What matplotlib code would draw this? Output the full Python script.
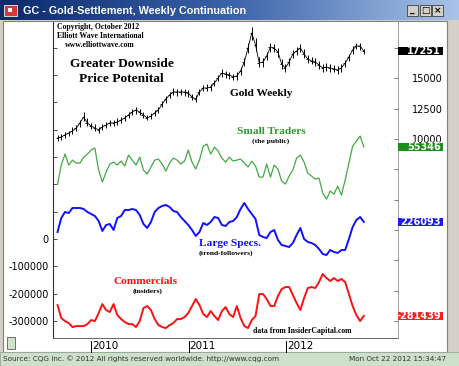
import numpy as np
import pandas as pd
import matplotlib
matplotlib.use("Agg")
import matplotlib.pyplot as plt
import matplotlib.dates as mdates
from matplotlib.patches import Rectangle
from matplotlib.colors import LinearSegmentedColormap

# ---------------- data (bi-weekly readings) ----------------
dates = pd.date_range("2009-08-28", periods=83, freq="14D")

gold_close = [10083, 10165, 10330, 10495, 10660, 10908, 11320, 11815, 11320, 11073,
              10908, 10743, 10990, 11155, 11320, 11320, 11403, 11568, 11733, 11980,
              12228, 12393, 12228, 11980, 11733, 11898, 12145, 12393, 12888, 13300,
              13630, 13878, 13878, 13878, 13878, 13795, 13465, 13300, 13878, 14208,
              14208, 14290, 14620, 15033, 15445, 15363, 15280, 15115, 15198, 15610,
              16353, 17508, 18745, 17755, 16270, 16353, 16848, 17590, 17508, 17178,
              16188, 15858, 16353, 17013, 17260, 17508, 17013, 16600, 16435, 16353,
              16105, 15858, 15940, 15858, 15775, 15693, 15858, 16270, 16765, 17343,
              17673, 17673, 17251]
gold_high = [10300, 10400, 10550, 10700, 10950, 11150, 11600, 12200, 11700, 11350,
             11200, 10950, 11250, 11400, 11550, 11600, 11700, 11850, 12000, 12250,
             12500, 12650, 12500, 12250, 12000, 12150, 12400, 12650, 13150, 13550,
             13900, 14200, 14150, 14100, 14150, 14050, 13750, 13600, 14100, 14450,
             14500, 14550, 14900, 15300, 15750, 15650, 15550, 15400, 15500, 15900,
             16700, 17900, 19200, 18300, 16800, 16700, 17200, 17950, 17850, 17500,
             16600, 16200, 16650, 17350, 17550, 17850, 17400, 16950, 16750, 16650,
             16400, 16200, 16250, 16150, 16100, 16000, 16150, 16550, 17050, 17650,
             17950, 17900, 17450]
gold_low = [9850, 9950, 10100, 10250, 10450, 10650, 11000, 11500, 11100, 10850,
            10700, 10500, 10750, 10900, 11050, 11100, 11150, 11300, 11500, 11700,
            11950, 12100, 11950, 11700, 11550, 11650, 11900, 12150, 12600, 13000,
            13350, 13600, 13550, 13600, 13550, 13500, 13200, 13050, 13600, 13950,
            13950, 14000, 14350, 14750, 15100, 15000, 14950, 14850, 14900, 15300,
            16000, 17100, 18200, 17300, 15900, 15950, 16500, 17200, 17150, 16800,
            15800, 15500, 16000, 16700, 16950, 17200, 16700, 16300, 16150, 16050,
            15800, 15500, 15650, 15550, 15500, 15400, 15550, 15950, 16450, 17050,
            17400, 17350, 17050]

small_traders = [36800, 46300, 51800, 46300, 48800, 47300, 47300, 50300, 51800, 53800,
                 54800, 43800, 37800, 42800, 46800, 47800, 46300, 48300, 45800, 51300,
                 48800, 46300, 50300, 43800, 41800, 45300, 48800, 49300, 46800, 43300,
                 47300, 49800, 48800, 46800, 48300, 53800, 47800, 44300, 48800, 55800,
                 56800, 51800, 55300, 53300, 49800, 47800, 50300, 48300, 48800, 49300,
                 47300, 45300, 48300, 45800, 40300, 40300, 46800, 40300, 46300, 44300,
                 38300, 36800, 40800, 43800, 49800, 51300, 47800, 42300, 40800, 39300,
                 39800, 32300, 29300, 33300, 31800, 35800, 31300, 38800, 47300, 55800,
                 58300, 60800, 55346]

large_specs = [196100, 238100, 256100, 253100, 268100, 268100, 268100, 265100, 256100, 250100,
               244100, 229100, 199100, 217100, 220100, 202100, 238100, 244100, 262100, 262100,
               265100, 262100, 247100, 220100, 208100, 226100, 256100, 268100, 274100, 277100,
               271100, 259100, 256100, 241100, 229100, 217100, 202100, 184100, 196100, 223100,
               217100, 226100, 241100, 238100, 217100, 214100, 226100, 229100, 241100, 265100,
               283100, 265100, 250100, 235100, 187100, 181100, 178100, 196100, 202100, 172100,
               157100, 154100, 151100, 163100, 187100, 208100, 175100, 166100, 163100, 157100,
               145100, 130100, 127100, 142100, 136100, 133100, 142100, 142100, 175100, 211100,
               232100, 241100, 226093]

commercials = [-241800, -289400, -300400, -307700, -322300, -318700, -318700, -318700, -311400, -296700,
               -300400, -271100, -238100, -260100, -267400, -238100, -278400, -293000, -304000, -311400,
               -311400, -322300, -300400, -252700, -245400, -260100, -293000, -315000, -322300, -326000,
               -315000, -307700, -293000, -293000, -285700, -271100, -245400, -219800, -241800, -274700,
               -285700, -263700, -282100, -296700, -263700, -249100, -274700, -285700, -245400, -289400,
               -318700, -326000, -296700, -282100, -201500, -201500, -219800, -245400, -245400, -208800,
               -183200, -175800, -175800, -205100, -234400, -260100, -216100, -179500, -175800, -179500,
               -157500, -128200, -142900, -153800, -142900, -153800, -146500, -157500, -201500, -245400,
               -278400, -300400, -281439]

gold_ticks = [10000, 12500, 15000]
cot_ticks = [0, -100000, -200000, -300000]
years = ["2010", "2011", "2012"]

# ---------------- layout helpers ----------------
W, H = 460, 366
fig = plt.figure(figsize=(W / 100, H / 100), dpi=100, facecolor="#d4d0c8")

def fx(px):
    return px / W

def fy(py):
    return 1 - py / H

bg = fig.add_axes([0, 0, 1, 1], zorder=0)
bg.set_xlim(0, W)
bg.set_ylim(H, 0)
bg.axis("off")

# window chrome
grad = np.linspace(0, 1, 256).reshape(1, -1)
cm = LinearSegmentedColormap.from_list("tb", ["#0c2a6e", "#3a63a8", "#a9c4ea"])
bg.imshow(grad, extent=(0, W, 20, 0), cmap=cm, aspect="auto", zorder=1)
bg.add_patch(Rectangle((3, 21), 444, 331, facecolor="white", edgecolor="#808080", lw=0.8, zorder=1))
bg.add_patch(Rectangle((0, 352), W, 14, facecolor="#cde0c9", edgecolor="#9aa89a", lw=0.6, zorder=1))
bg.add_patch(Rectangle((7, 337), 8, 12, facecolor="#cfe3cc", edgecolor="#707070", lw=0.7, zorder=2))
# title icon
bg.add_patch(Rectangle((4, 5), 13, 11, facecolor="#d8383a", edgecolor="#f0f0f0", lw=0.6, zorder=2))
bg.add_patch(Rectangle((8, 8), 4, 4, facecolor="white", edgecolor="none", zorder=3))
# title buttons
for x0, sym in [(407, "_"), (420, "□"), (432, "×")]:
    bg.add_patch(Rectangle((x0, 5), 11, 11, facecolor="#d4d0c8", edgecolor="#404040", lw=0.6, zorder=2))
    bg.text(x0 + 5.5, 10.5, sym, ha="center", va="center", fontsize=6.5, fontweight="bold",
            color="black", zorder=3)
bg.text(23, 10.5, "GC - Gold-Settlement, Weekly Continuation", color="white", fontsize=7.8,
        fontweight="bold", ha="left", va="center", family="Liberation Sans", zorder=3)
bg.text(3, 359, "Source: CQG Inc. \u00a9 2012 All rights reserved worldwide. http://www.cqg.com",
        fontsize=5.2, ha="left", va="center", color="#333333", zorder=3)
bg.text(446, 359, "Mon Oct 22 2012 15:34:47", fontsize=5.2, ha="right", va="center",
        color="#333333", zorder=3)

# ---------------- main chart ----------------
ax = fig.add_axes([fx(53), fy(338), fx(398) - fx(53), (338 - 22) / H], zorder=2)
ax.set_facecolor("white")
xd = mdates.date2num(dates)
ax.set_xlim(mdates.date2num(pd.Timestamp("2009-08-11")), mdates.date2num(pd.Timestamp("2013-02-24")))

# commercials on left scale: 0 at px 239, 100000 per 27.3 px
ax.set_ylim(-(338 - 239) * 3660, (239 - 22) * 3660)
ax.plot(xd, commercials, color="#ff1010", lw=1.4, zorder=3)

ax_g = ax.twinx()
ax_g.set_ylim(10000 - (338 - 139) * 82.5, 10000 + (139 - 22) * 82.5)
ax_g.vlines(xd, gold_low, gold_high, color="black", lw=0.7)
ax_g.plot(xd, gold_close, color="black", lw=0.6)
ax_g.plot(xd, gold_close, ls="none", marker=0, ms=1.6, mew=0.6, color="black")

ax_s = ax.twinx()
ax_s.set_ylim(55346 - (338 - 147) * 500, 55346 + (147 - 22) * 500)
ax_s.plot(xd, small_traders, color="#45a845", lw=0.9)
ax_s.axis("off")

ax_l = ax.twinx()
ax_l.set_ylim(226093 - (338 - 222) * 3000, 226093 + (222 - 22) * 3000)
ax_l.plot(xd, large_specs, color="#1010ff", lw=1.4)
ax_l.axis("off")

# spines / ticks
for a in (ax, ax_g):
    a.spines["top"].set_visible(False)
ax.spines["left"].set_color("#303030")
ax.spines["left"].set_linewidth(0.8)
ax.spines["bottom"].set_color("#505050")
ax.spines["bottom"].set_linewidth(0.6)
ax.spines["right"].set_visible(False)
ax_g.spines["left"].set_visible(False)
ax_g.spines["bottom"].set_visible(False)
ax_g.spines["right"].set_color("#909090")
ax_g.spines["right"].set_linewidth(0.6)

ax.set_xticks([])
lt = np.arange(-300000, 800000, 100000)
ax.set_yticks(lt)
ax.set_yticklabels([f"{v:d}" if v in cot_ticks else "" for v in lt])
ax.tick_params(axis="y", direction="in", length=3, width=0.6, pad=3, labelsize=7, colors="#303030",
               labelcolor="black")

gt = np.arange(-5000, 20000, 2500)
ax_g.set_yticks(gt)
ax_g.set_yticklabels([f"{v:d}" if v in gold_ticks else "" for v in gt])
ax_g.tick_params(axis="y", direction="in", length=3, width=0.6, pad=32, labelsize=7,
                 colors="#606060", labelcolor="black")
for lbl in ax_g.get_yticklabels():
    lbl.set_ha("right")

# bottom colour strip (contract months)
strip_cols = ["#e02020", "#20c020", "white", "#202020"]
start = pd.Timestamp("2009-08-01")
k = 0
xt = ax.get_xaxis_transform()
while start < pd.Timestamp("2013-03-01"):
    end = start + pd.DateOffset(months=2)
    x0 = mdates.date2num(start)
    x1 = mdates.date2num(end)
    ax.add_patch(Rectangle((x0, -0.009), x1 - x0, 0.008, transform=xt, facecolor=strip_cols[k % 4],
                           edgecolor="none", clip_on=True, zorder=5))
    start = end
    k += 1

for yr in years:
    xv = mdates.date2num(pd.Timestamp(f"{yr}-01-01"))
    ax.plot([xv, xv], [-0.008, -0.045], transform=xt, color="black", lw=0.7, clip_on=False)
    ax.text(xv + 4, -0.026, yr, transform=xt, ha="left", va="center", fontsize=7.5, clip_on=False)

# annotations
serif = "Liberation Serif"
fg = fig.add_axes([0, 0, 1, 1], zorder=10)
fg.set_xlim(0, W)
fg.set_ylim(H, 0)
fg.axis("off")
fg.patch.set_alpha(0)

fg.text(57, 27, "Copyright, October 2012", family=serif, fontweight="bold", fontsize=5.6, va="center")
fg.text(57, 36, "Elliott Wave International", family=serif, fontweight="bold", fontsize=5.6, va="center")
fg.text(65, 45, "www.elliottwave.com", family=serif, fontweight="bold", fontsize=5.6, va="center")
fg.text(121.5, 64, "Greater Downside", family=serif, fontweight="bold", fontsize=9.6, ha="center", va="center")
fg.text(121.5, 79, "Price Potenital", family=serif, fontweight="bold", fontsize=9.6, ha="center", va="center")
fg.text(261, 94, "Gold Weekly", family=serif, fontweight="bold", fontsize=8.2, ha="center", va="center")
fg.text(271, 131, "Small Traders", family=serif, fontweight="bold", fontsize=8.2, ha="center",
        va="center", color="#2e9a2e")
fg.text(271, 141, "(the public)", family=serif, fontweight="bold", fontsize=5.4, ha="center", va="center")
fg.text(199, 243, "Large Specs.", family=serif, fontweight="bold", fontsize=8.2, ha="left",
        va="center", color="#1010ff")
fg.text(199, 253, "(trend-followers)", family=serif, fontweight="bold", fontsize=5.4, ha="left", va="center")
fg.text(146, 281, "Commercials", family=serif, fontweight="bold", fontsize=8.2, ha="center",
        va="center", color="#ff1010")
fg.text(148, 291, "(insiders)", family=serif, fontweight="bold", fontsize=5.4, ha="center", va="center")
fg.text(253, 331, "data from InsiderCapital.com", family=serif, fontweight="bold", fontsize=5.6,
        ha="left", va="center")

# last-value boxes on the right
def ypix(axis, val):
    return H - axis.transData.transform((0, val))[1]

for axis, val, col, txt in [(ax_g, gold_close[-1], "black", f"{gold_close[-1]:d}"),
                            (ax_s, small_traders[-1], "#1e8c1e", f"{small_traders[-1]:d}"),
                            (ax_l, large_specs[-1], "#1a1aff", f"{large_specs[-1]:d}"),
                            (ax, commercials[-1], "#ff2020", f"{commercials[-1]:d}")]:
    yp = ypix(axis, val)
    fg.add_patch(Rectangle((398, yp - 3.8), 45, 7.8, facecolor=col, edgecolor="none"))
    fg.text(441, yp, txt, color="white", fontsize=7, fontweight="bold", ha="right", va="center")

fig.savefig("out.png", dpi=100, facecolor=fig.get_facecolor())
